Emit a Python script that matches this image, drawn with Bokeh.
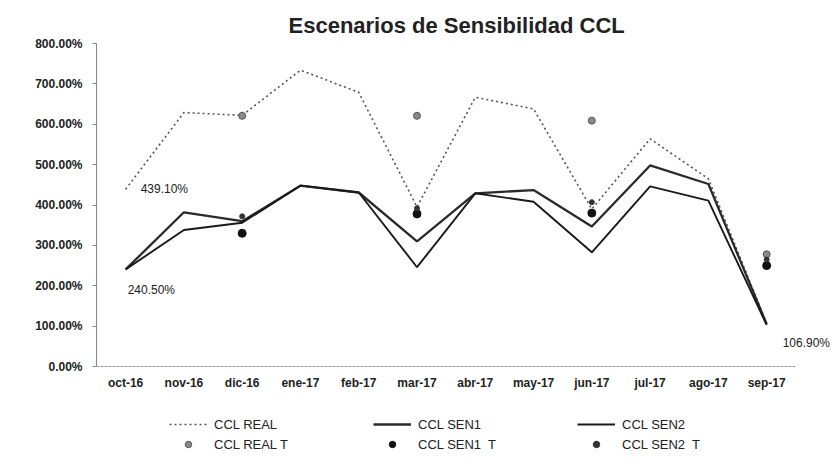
from bokeh.plotting import figure
from bokeh.models import (Legend, LegendItem, FixedTicker, PrintfTickFormatter,
                          ColumnDataSource, Range1d)
from bokeh.core.properties import value
from bokeh.embed import file_html
from bokeh.resources import INLINE

NaN = float("nan")

months = ["oct-16", "nov-16", "dic-16", "ene-17", "feb-17", "mar-17",
          "abr-17", "may-17", "jun-17", "jul-17", "ago-17", "sep-17"]
ccl_real = [439.1, 629, 622, 734, 679, 395, 667, 638, 390, 564, 465, 106.9]
ccl_sen1 = [240.5, 382, 360, 448, 431, 310, 429, 437, 347, 498, 452, 105]
ccl_sen2 = [240.5, 338, 356, 448, 431, 246, 429, 408, 283, 446, 411, 103]
ccl_real_t = [NaN, NaN, 621, NaN, NaN, 621, NaN, NaN, 609, NaN, NaN, 278]
ccl_sen1_t = [NaN, NaN, 330, NaN, NaN, 378, NaN, NaN, 380, NaN, NaN, 250]
ccl_sen2_t = [NaN, NaN, 372, NaN, NaN, 392, NaN, NaN, 407, NaN, NaN, 265]
y_ticks = [0, 100, 200, 300, 400, 500, 600, 700, 800]
title_text = "Escenarios de Sensibilidad CCL"

FONT = "Liberation Sans"
idx = list(range(len(months)))

src = ColumnDataSource(dict(x=idx, real=ccl_real, sen1=ccl_sen1, sen2=ccl_sen2,
                            real_t=ccl_real_t, sen1_t=ccl_sen1_t, sen2_t=ccl_sen2_t))

p = figure(width=839, height=467, x_range=Range1d(-0.5, len(months) + 0.25),
           y_range=Range1d(-250, 800), title=title_text,
           output_backend="svg", toolbar_location=None,
           min_border_left=96, min_border_right=0, min_border_top=43, min_border_bottom=0)
p.outline_line_color = None
p.xgrid.grid_line_color = None
p.ygrid.grid_line_color = None
p.background_fill_color = "white"
p.border_fill_color = "white"

p.title.text_font = FONT
p.title.text_font_size = "22px"
p.title.text_font_style = "bold"
p.title.text_color = "#222222"
p.title.align = "left"
p.title.offset = 192
p.title.standoff = 12

r_real = p.line("x", "real", source=src, line_color="#555555", line_width=1.6, line_dash="2 3")
r_sen1 = p.line("x", "sen1", source=src, line_color="#2a2a2a", line_width=2.3)
r_sen2 = p.line("x", "sen2", source=src, line_color="#1a1a1a", line_width=1.9)
r_real_t = p.scatter("x", "real_t", source=src, size=7, fill_color="#8a8a8a", line_color="#555555", line_width=1)
r_sen1_t = p.scatter("x", "sen1_t", source=src, size=8, fill_color="#111111", line_color="#111111")
r_sen2_t = p.scatter("x", "sen2_t", source=src, size=5, fill_color="#333333", line_color="#333333")

# data labels
lbl_font = dict(text_font=value(FONT), text_font_size="12px", text_color="#222222")
p.text(x=[idx[0]], y=[ccl_real[0]], text=["%.2f%%" % ccl_real[0]], x_offset=15,
       text_align="left", text_baseline="middle", **lbl_font)
p.text(x=[idx[0]], y=[ccl_sen1[0]], text=["%.2f%%" % ccl_sen1[0]], x_offset=2, y_offset=21,
       text_align="left", text_baseline="middle", **lbl_font)
p.text(x=[idx[-1]], y=[ccl_real[-1]], text=["%.2f%%" % ccl_real[-1]], x_offset=16, y_offset=20,
       text_align="left", text_baseline="middle", **lbl_font)

# axes
p.yaxis.ticker = FixedTicker(ticks=y_ticks)
p.yaxis.bounds = (0, 800)
p.yaxis.formatter = PrintfTickFormatter(format="%.2f%%")
p.yaxis.major_label_text_font = FONT
p.yaxis.major_label_text_font_size = "12px"
p.yaxis.major_label_text_font_style = "bold"
p.yaxis.major_label_text_color = "#222222"
p.yaxis.axis_line_color = "#888888"
p.yaxis.major_tick_line_color = "#888888"
p.yaxis.major_tick_out = 4
p.yaxis.major_tick_in = 0
p.yaxis.minor_tick_line_color = None
p.yaxis.major_label_standoff = 10

p.xaxis.fixed_location = 0
p.xaxis.ticker = FixedTicker(ticks=idx)
p.xaxis.major_label_overrides = {i: m for i, m in zip(idx, months)}
p.xaxis.bounds = (-0.5, len(months) - 0.5)
p.xaxis.major_label_text_font = FONT
p.xaxis.major_label_text_font_size = "12px"
p.xaxis.major_label_text_font_style = "bold"
p.xaxis.major_label_text_color = "#222222"
p.xaxis.axis_line_color = "#999999"
p.xaxis.axis_line_dash = "3 1"
p.xaxis.major_tick_line_color = None
p.xaxis.major_tick_out = 0
p.xaxis.major_tick_in = 0
p.xaxis.minor_tick_line_color = None
p.xaxis.major_label_standoff = 9

legend = Legend(items=[
    LegendItem(label="CCL REAL", renderers=[r_real]),
    LegendItem(label="CCL SEN1", renderers=[r_sen1]),
    LegendItem(label="CCL SEN2", renderers=[r_sen2]),
    LegendItem(label="CCL REAL T", renderers=[r_real_t]),
    LegendItem(label="CCL SEN1  T", renderers=[r_sen1_t]),
    LegendItem(label="CCL SEN2  T", renderers=[r_sen2_t]),
], orientation="horizontal", ncols=3, location=(73, 15))
legend.glyph_width = 38
legend.glyph_height = 16
legend.label_height = 16
legend.label_width = 155
legend.label_standoff = 7
legend.spacing = 4
legend.padding = 0
legend.margin = 0
legend.border_line_color = None
legend.background_fill_alpha = 0
legend.label_text_font = FONT
legend.label_text_font_size = "13px"
legend.label_text_color = "#222222"
p.add_layout(legend, "center")

open("out.html", "w").write(file_html(p, INLINE))
